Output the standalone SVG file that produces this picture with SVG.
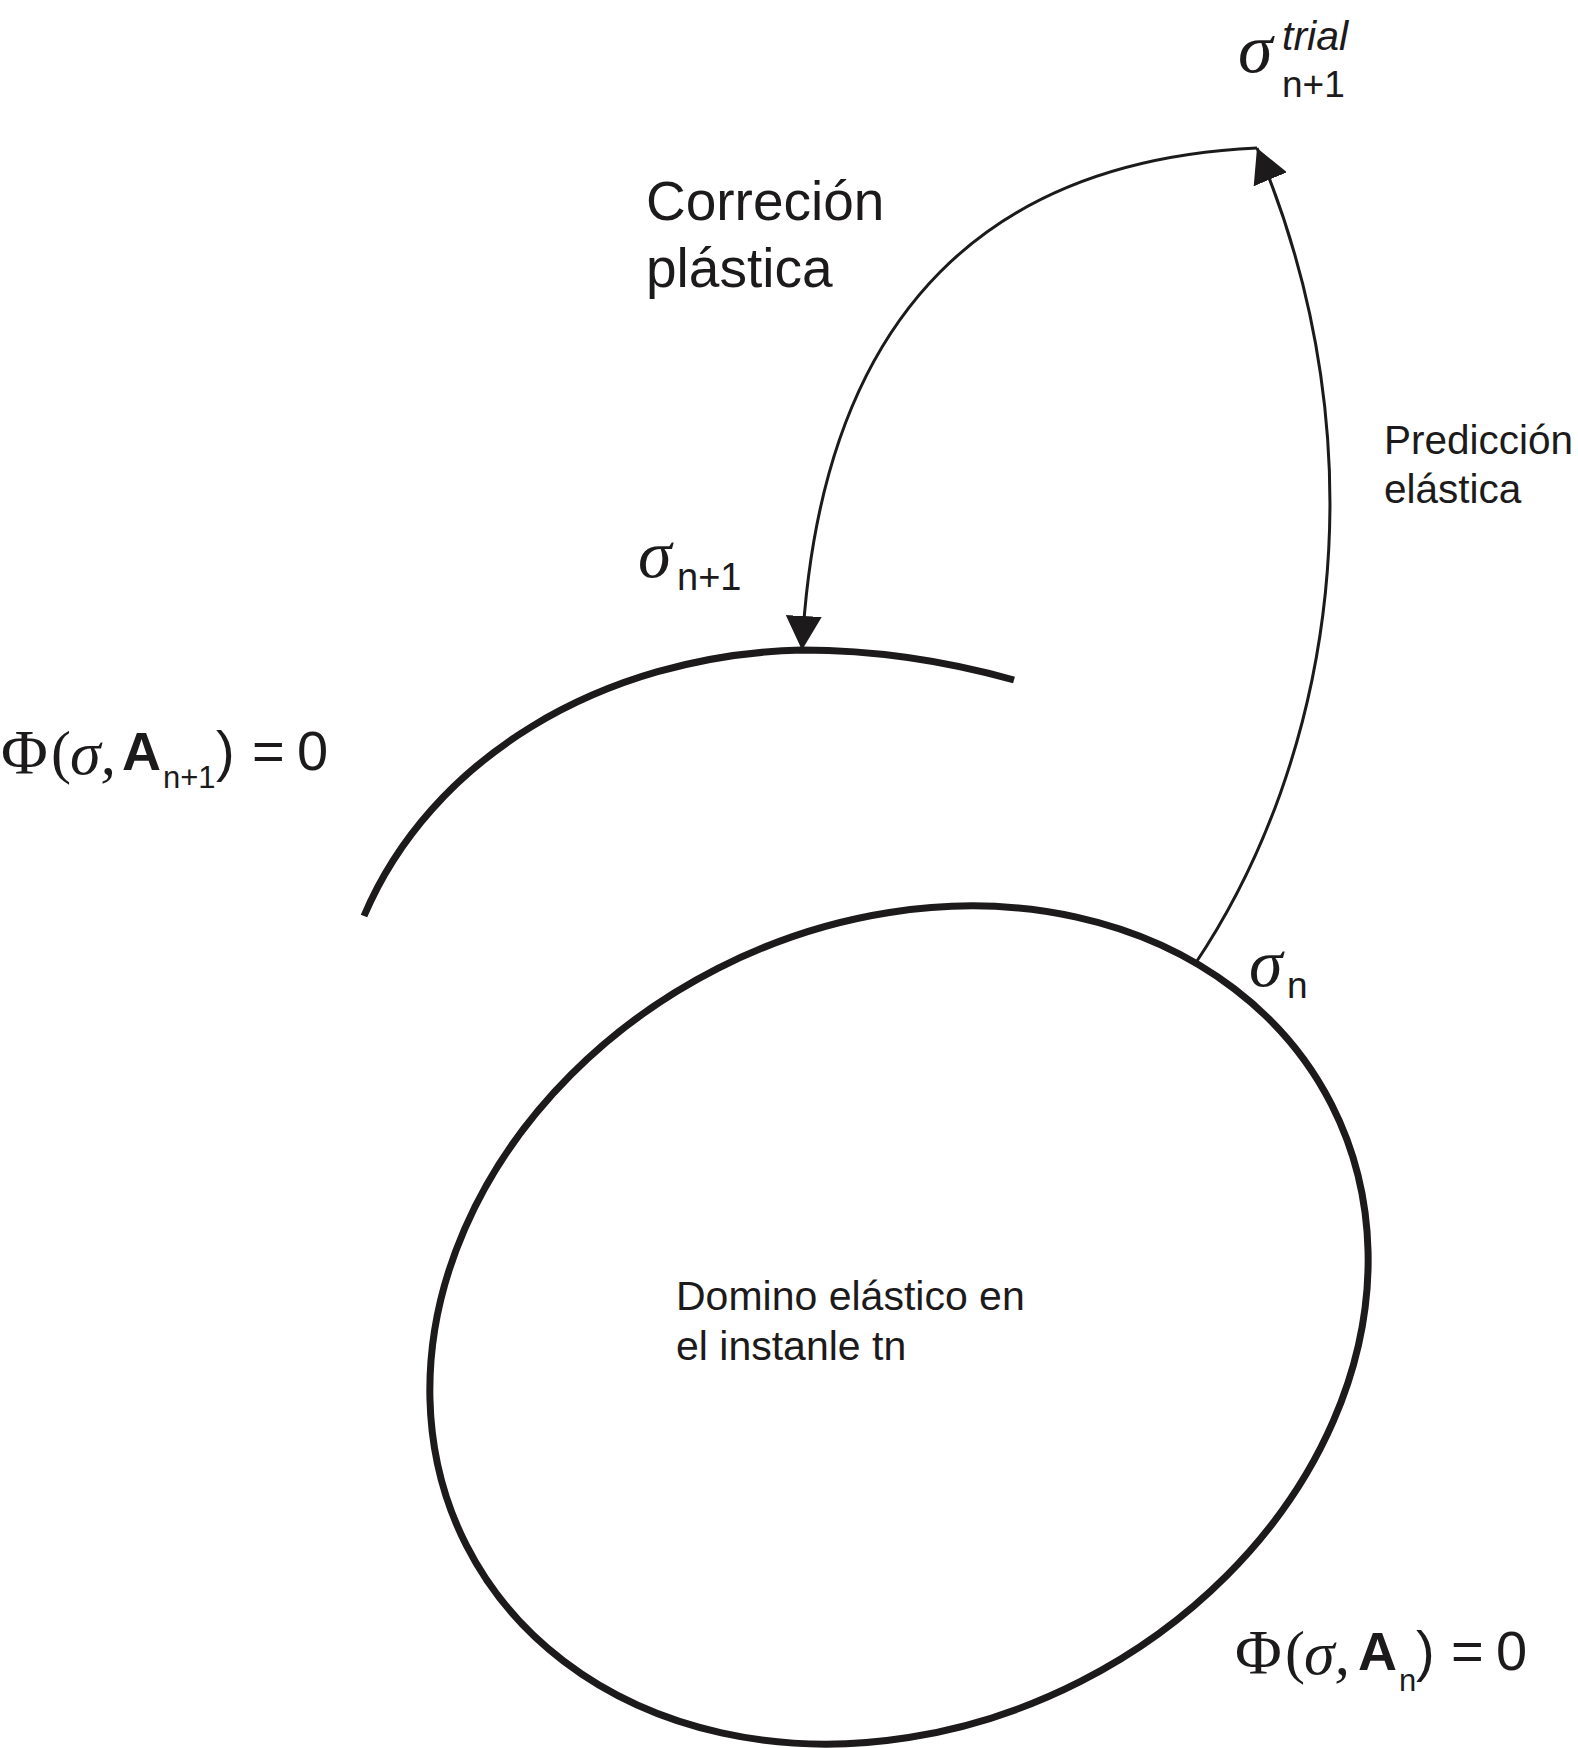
<svg xmlns="http://www.w3.org/2000/svg" width="1578" height="1748" viewBox="0 0 1578 1748">
<style>
.sans{font-family:"Liberation Sans",Arial,sans-serif;fill:#1c1a1b}
.bold{font-family:"Liberation Sans",Arial,sans-serif;font-weight:bold;fill:#1c1a1b}
.serif{font-family:"Liberation Serif","Times New Roman",serif;fill:#1c1a1b}
.sig{font-family:"Liberation Serif","Times New Roman",serif;font-style:italic;fill:#1c1a1b}
.thick{fill:none;stroke:#1c1a1b;stroke-width:7}
.thin{fill:none;stroke:#1c1a1b;stroke-width:3}
</style>
<defs>
<marker id="ah" markerUnits="userSpaceOnUse" viewBox="0 0 34 36" refX="34" refY="18" markerWidth="34" markerHeight="36" orient="auto">
<path d="M0,0 L34,18 L0,36 Z" fill="#1c1a1b"/>
</marker>
</defs>
<g id="dominio">
<ellipse class="thick" cx="899" cy="1325" rx="485.5" ry="400" transform="rotate(-27 899 1325)"/>
<text class="sans" font-size="41" x="676" y="1310">Domino elástico en</text>
<text class="sans" font-size="41" x="676" y="1360">el instanle tn</text>
</g>
<g id="superficie-n1">
<path class="thick" d="M364,916 C430,760 600,655 802,650 C880,650 950,662 1014,680"/>
</g>
<g id="connectors">
<path id="prediccion" class="thin" d="M1195,964 C1332,760 1385,450 1257,148" marker-end="url(#ah)"/>
<path id="correccion" class="thin" d="M1257,148 C1000,160 820,300 802,650" marker-end="url(#ah)"/>
</g>
<g id="label-trial">
<text class="sig" font-size="70" x="1238" y="72">σ</text>
<text class="sans" font-style="italic" font-size="41" x="1282" y="50">trial</text>
<text class="sans" font-size="37" x="1282" y="97">n+1</text>
</g>
<g id="label-correccion">
<text class="sans" font-size="55" x="646" y="220">Correción</text>
<text class="sans" font-size="55" x="646" y="287">plástica</text>
</g>
<g id="label-prediccion">
<text class="sans" font-size="40.5" x="1384" y="454">Predicción</text>
<text class="sans" font-size="40.5" x="1384" y="503">elástica</text>
</g>
<g id="label-sigma-n1">
<text class="sig" font-size="68" x="638" y="577">σ</text>
<text class="sans" font-size="38" x="677" y="590">n+1</text>
</g>
<g id="label-sigma-n">
<text class="sig" font-size="68" x="1249" y="986">σ</text>
<text class="sans" font-size="37" x="1287" y="998">n</text>
</g>
<g id="label-phi-n1">
<text class="serif" font-size="64" x="1" y="774">Φ</text>
<text class="serif" font-size="60" x="51" y="772">(</text>
<text class="sig" font-size="62" x="70" y="774">σ,</text>
<text class="bold" font-size="54" x="122" y="770">A</text>
<text class="sans" font-size="31" x="163" y="788">n+1</text>
<text class="sans" font-size="56" x="216" y="770">)</text>
<text class="sans" font-size="56" x="252" y="770">=</text>
<text class="sans" font-size="56" x="297" y="770">0</text>
</g>
<g id="label-phi-n">
<text class="serif" font-size="64" x="1235" y="1674">Φ</text>
<text class="serif" font-size="60" x="1285" y="1672">(</text>
<text class="sig" font-size="62" x="1304" y="1674">σ,</text>
<text class="bold" font-size="54" x="1358" y="1670">A</text>
<text class="sans" font-size="31" x="1399" y="1691">n</text>
<text class="sans" font-size="56" x="1416" y="1670">)</text>
<text class="sans" font-size="56" x="1451" y="1670">=</text>
<text class="sans" font-size="56" x="1496" y="1670">0</text>
</g>
</svg>
